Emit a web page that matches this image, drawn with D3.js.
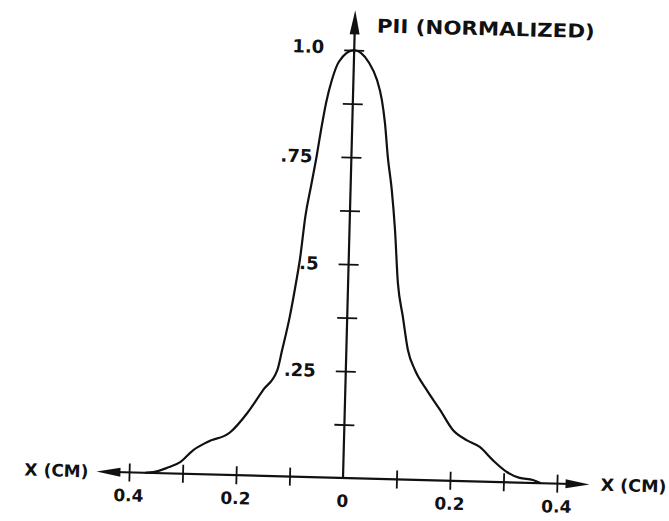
<!DOCTYPE html>
<html>
<head>
<meta charset="utf-8">
<script src="https://cdn.jsdelivr.net/npm/d3@7"></script>
<style>
  body { margin: 0; background: #fff; }
  svg { display: block; }
  text { font-family: "DejaVu Sans", sans-serif; font-weight: bold; fill: #111; }
</style>
</head>
<body>
<script>
// profile values (x in cm, PII normalized)
var xCm = [-0.37, -0.355, -0.329, -0.305, -0.281, -0.255, -0.213, -0.182, -0.154, -0.128,
           -0.120, -0.107, -0.097, -0.091, -0.083, -0.074, -0.065, -0.058, -0.050, -0.040,
           -0.028, 0, 0.028, 0.044, 0.054, 0.061, 0.068, 0.077, 0.085,
           0.093, 0.104, 0.115, 0.129, 0.152, 0.178, 0.203, 0.229, 0.254, 0.279,
           0.306, 0.330, 0.355, 0.37];
var pii = [0.0, 0.002, 0.013, 0.027, 0.056, 0.076, 0.100, 0.146, 0.200, 0.248,
           0.295, 0.376, 0.456, 0.510, 0.610, 0.680, 0.750, 0.812, 0.875, 0.930,
           0.972, 1.0, 0.972, 0.932, 0.886, 0.832, 0.753, 0.676, 0.583,
           0.459, 0.380, 0.303, 0.257, 0.211, 0.165, 0.119, 0.096, 0.081, 0.051,
           0.024, 0.011, 0.007, 0.0];

// ticks and labels
var xTicks = [-0.4, -0.3, -0.2, -0.1, 0.1, 0.2, 0.3, 0.4];
var xLabelValues = [-0.4, -0.2, 0, 0.2, 0.4];
var xLabelText = ["0.4", "0.2", "0", "0.2", "0.4"];
var yTicks = [0.125, 0.25, 0.375, 0.5, 0.625, 0.75, 0.875, 1.0];
var yLabelValues = [1.0, 0.75, 0.5, 0.25];
var yLabelText = ["1.0", ".75", ".5", ".25"];
var yTitle = "PII (NORMALIZED)";
var xTitle = "X (CM)";

var width = 669, height = 521;
var origin = {x: 343, y: 478};

// the scan is turned a little clockwise
var tilt = 1.5;

var x = d3.scaleLinear().domain([-0.4, 0.4]).range([-214, 214]);
var y = d3.scaleLinear().domain([0, 1]).range([0, -428]);

var svg = d3.select("body").append("svg")
    .attr("width", width)
    .attr("height", height);

var g = svg.append("g")
    .attr("transform", "translate(" + origin.x + "," + origin.y + ") rotate(" + tilt + ")");

// x axis line with arrows both ends
var xEnd = x(0.461);
g.append("line")
    .attr("x1", -xEnd + 18).attr("x2", xEnd - 18)
    .attr("y1", 0).attr("y2", 0)
    .attr("stroke", "#111").attr("stroke-width", 2.2);
g.append("path")
    .attr("d", "M" + (-xEnd) + ",0 L" + (-xEnd + 24) + ",-4.5 L" + (-xEnd + 24) + ",4.5 Z")
    .attr("fill", "#111");
g.append("path")
    .attr("d", "M" + xEnd + ",0 L" + (xEnd - 24) + ",-4.5 L" + (xEnd - 24) + ",4.5 Z")
    .attr("fill", "#111");

// x ticks
var xAxis = g.append("g")
    .attr("class", "xaxis")
    .call(d3.axisBottom(x).tickValues(xTicks).tickFormat(""));
xAxis.select(".domain").remove();
xAxis.selectAll(".tick line")
    .attr("y1", -9).attr("y2", 9)
    .attr("stroke", "#111").attr("stroke-width", 1.8);

// x tick labels
g.selectAll(".xlabel")
    .data(xLabelValues)
  .enter().append("text")
    .attr("class", "xlabel")
    .attr("x", function(d) { return x(d); })
    .attr("y", 23)
    .attr("dy", "0.35em")
    .style("text-anchor", "middle")
    .style("font-size", "17px")
    .text(function(d, i) { return xLabelText[i]; });

// x axis titles, both ends
g.append("text")
    .attr("x", -xEnd - 8)
    .attr("y", 0)
    .attr("dy", "0.35em")
    .style("text-anchor", "end")
    .style("font-size", "17px")
    .text(xTitle);
g.append("text")
    .attr("x", xEnd + 11)
    .attr("y", 0)
    .attr("dy", "0.35em")
    .style("text-anchor", "start")
    .style("font-size", "17px")
    .attr("textLength", 66)
    .attr("lengthAdjust", "spacingAndGlyphs")
    .text(xTitle);

// y axis line with arrow
var yEnd = y(1.093);
g.append("line")
    .attr("x1", 0).attr("x2", 0)
    .attr("y1", 0).attr("y2", yEnd + 18)
    .attr("stroke", "#111").attr("stroke-width", 2.2);
g.append("path")
    .attr("d", "M0," + yEnd + " L-5," + (yEnd + 24) + " L5," + (yEnd + 24) + " Z")
    .attr("fill", "#111");

// y ticks
var yAxis = g.append("g")
    .attr("class", "yaxis")
    .call(d3.axisLeft(y).tickValues(yTicks).tickFormat(""));
yAxis.select(".domain").remove();
yAxis.selectAll(".tick line")
    .attr("x1", -10).attr("x2", 10)
    .attr("stroke", "#111").attr("stroke-width", 1.8);

// y labels sit next to the curve
g.selectAll(".ylabel")
    .data(yLabelValues)
  .enter().append("text")
    .attr("class", "ylabel")
    .attr("x", function(d) { return d === 0.75 ? -39 : -30; })
    .attr("y", function(d) { return y(d); })
    .attr("dy", function(d) { return d === 1 ? "0.2em" : "0.35em"; })
    .style("text-anchor", "end")
    .style("font-size", "18px")
    .text(function(d, i) { return yLabelText[i]; });

// y title
g.append("text")
    .attr("x", 22)
    .attr("y", y(1) - 25)
    .attr("dy", "0.35em")
    .style("font-size", "19px")
    .attr("textLength", 218)
    .attr("lengthAdjust", "spacingAndGlyphs")
    .text(yTitle);

// the profile
var lineData = xCm.map(function(d, i) { return {x: d, v: pii[i]}; });
var profile = d3.line()
    .x(function(d) { return x(d.x); })
    .y(function(d) { return y(d.v); })
    .curve(d3.curveMonotoneX);

g.append("path")
    .datum(lineData)
    .attr("fill", "none")
    .attr("stroke", "#111")
    .attr("stroke-width", 2.2)
    .attr("d", profile);
</script>
</body>
</html>
